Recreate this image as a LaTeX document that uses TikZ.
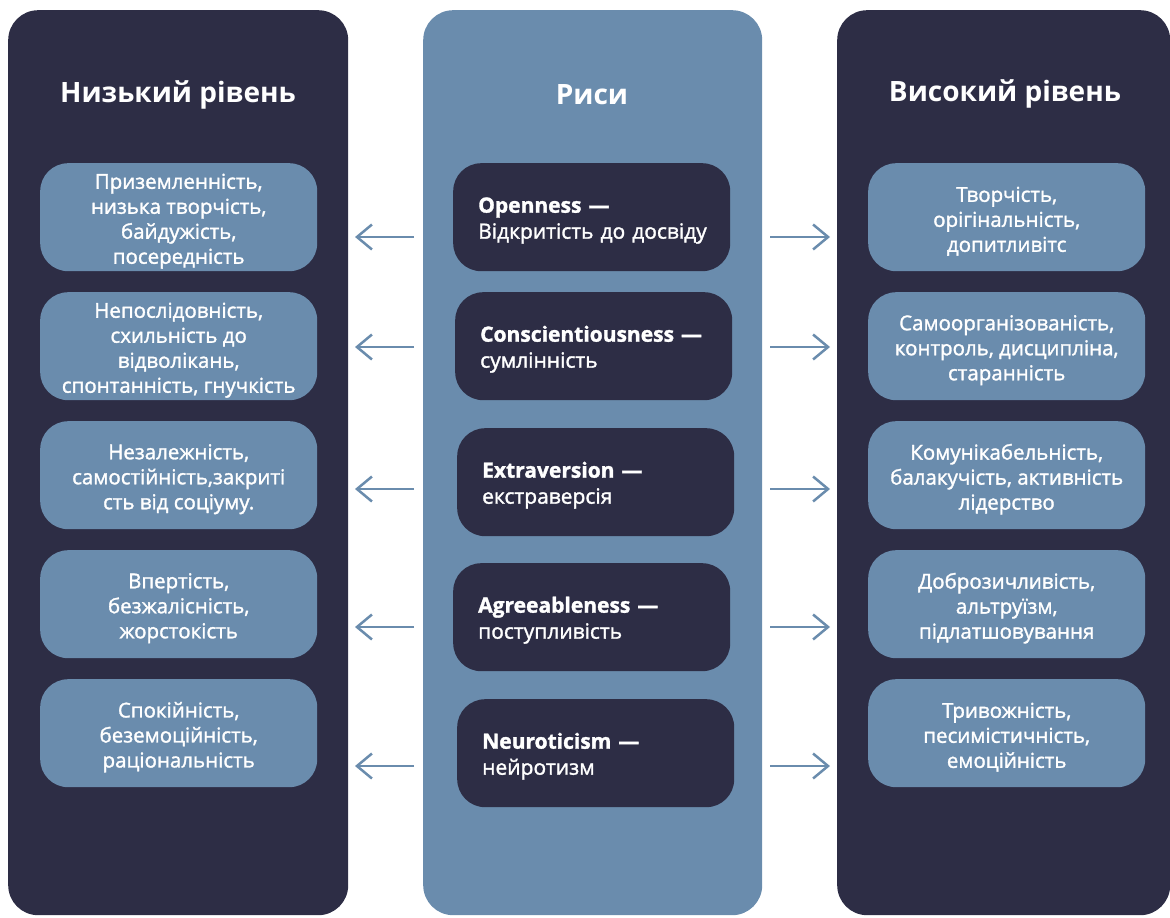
\documentclass[tikz,border=0pt]{standalone}
\usepackage{fontspec}
\setmainfont{Open Sans}
\newfontfamily\medfont[FakeBold=1.5]{Open Sans}
\usetikzlibrary{arrows.meta}
\definecolor{navy}{HTML}{2D2D45}
\definecolor{steel}{HTML}{6A8CAD}
\newcommand{\topstrut}{\rule{0pt}{22pt}}
\begin{document}
\begin{tikzpicture}[x=1pt,y=-1pt,
  column/.style={rectangle, rounded corners=30pt, inner sep=0pt, anchor=north west},
  sidebox/.style={rectangle, rounded corners=28pt, fill=steel, minimum width=277pt, minimum height=108pt,
    inner sep=0pt, anchor=north west},
  sidetext/.style={inner sep=0pt, text=white, font=\medfont\fontsize{20.5}{25}\selectfont, align=center},
  traitbox/.style={rectangle, rounded corners=28pt, fill=navy, minimum width=277pt, minimum height=108pt,
    inner xsep=25pt, inner ysep=0pt, text width=227pt, text=white, font=\medfont\fontsize{21}{26}\selectfont, align=left, anchor=north west},
  title/.style={text=white, font=\bfseries\fontsize{28}{30}\selectfont},
  arr/.style={draw=steel, line width=2.5pt, -{Straight Barb[length=15pt,width=25pt,line width=2.5pt]}}
]
\useasboundingbox (0,0) rectangle (1170,918);
% columns
\node[column, fill=navy, minimum width=340pt, minimum height=905pt] (colL) at (8,10) {};
\node[column, fill=steel, minimum width=339pt, minimum height=905pt] (colC) at (423,10) {};
\node[column, fill=navy, minimum width=333pt, minimum height=905pt] (colR) at (837,10) {};
% titles
\node[title] (tL) at (178,95) {Низький рівень};
\node[title] (tC) at (592,95) {Риси};
\node[title] (tR) at (1005,94) {Високий рівень};
% left boxes
\node[sidebox] (l1) at (40,163) {};
\node[sidebox] (l2) at (40,292) {};
\node[sidebox] (l3) at (40,421) {};
\node[sidebox] (l4) at (40,550) {};
\node[sidebox] (l5) at (40,679) {};
\node[sidetext] (l1t) at ([yshift=-4pt]l1.center) {Приземленність,\\низька творчість,\\байдужість,\\посередність};
\node[sidetext] (l2t) at ([yshift=-4pt]l2.center) {Непослідовність,\\схильність до\\відволікань,\\спонтанність, гнучкість};
\node[sidetext] (l3t) at ([yshift=-4pt]l3.center) {Незалежність,\\самостійність,закриті\\сть від соціуму.};
\node[sidetext] (l4t) at ([yshift=-4pt]l4.center) {Впертість,\\безжалісність,\\жорстокість};
\node[sidetext] (l5t) at ([yshift=-4pt]l5.center) {Спокійність,\\беземоційність,\\раціональність};
% center boxes
\node[traitbox] (c1) at (453,163) {\topstrut{\bfseries Openness —}\\\mbox{Відкритість до досвіду}};
\node[traitbox] (c2) at (455,292) {\topstrut{\bfseries Conscientiousness —}\\сумлінність};
\node[traitbox] (c3) at (457,428) {\topstrut{\bfseries Extraversion —}\\екстраверсія};
\node[traitbox] (c4) at (453,563) {\topstrut{\bfseries Agreeableness —}\\поступливість};
\node[traitbox] (c5) at (457,699) {\topstrut{\bfseries Neuroticism —}\\нейротизм};
% right boxes
\node[sidebox] (r1) at (868,163) {};
\node[sidebox] (r2) at (868,292) {};
\node[sidebox] (r3) at (868,421) {};
\node[sidebox] (r4) at (868,550) {};
\node[sidebox] (r5) at (868,679) {};
\node[sidetext] (r1t) at ([yshift=-4pt]r1.center) {Творчість,\\орігінальність,\\допитливітс};
\node[sidetext] (r2t) at ([yshift=-4pt]r2.center) {Самоорганізованість,\\контроль, дисципліна,\\старанність};
\node[sidetext] (r3t) at ([yshift=-4pt]r3.center) {Комунікабельність,\\балакучість, активність\\лідерство};
\node[sidetext] (r4t) at ([yshift=-4pt]r4.center) {Доброзичливість,\\альтруїзм,\\підлатшовування};
\node[sidetext] (r5t) at ([yshift=-4pt]r5.center) {Тривожність,\\песимістичність,\\емоційність};
% arrows
\foreach \i/\y in {1/237,2/347,3/489,4/627,5/766}{
  \coordinate (ls\i) at (414,\y);
  \coordinate (le\i) at (355,\y);
  \coordinate (rs\i) at (770,\y);
  \coordinate (re\i) at (830,\y);
  \draw[arr] (ls\i) -- (le\i);
  \draw[arr] (rs\i) -- (re\i);
}
\end{tikzpicture}
\end{document}
